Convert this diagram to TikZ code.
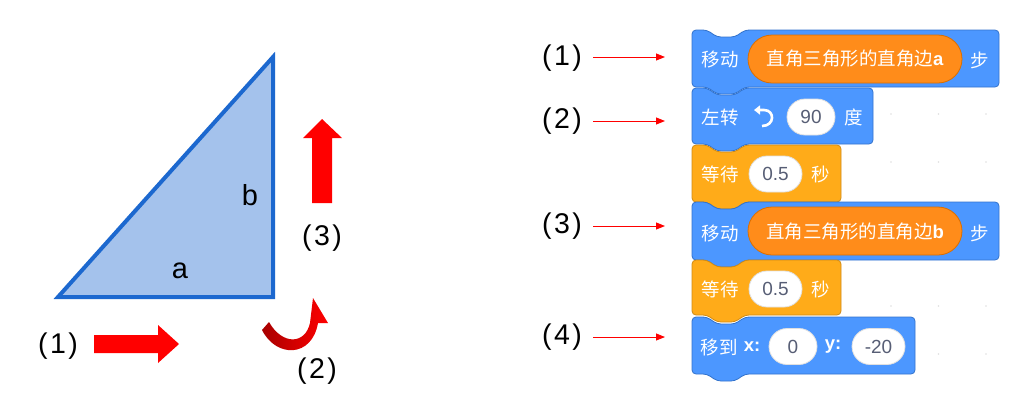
\documentclass[tikz,border=0pt]{standalone}
\usepackage{fontspec}
\setmainfont{Liberation Sans}
\newfontfamily\cjk{Noto Sans CJK SC}
\usetikzlibrary{arrows.meta}
\definecolor{triline}{HTML}{1C68CF}
\definecolor{trifill}{HTML}{A4C2EC}
\definecolor{motion}{HTML}{4C97FF}
\definecolor{motionb}{HTML}{3373CC}
\definecolor{ctrl}{HTML}{FFAB19}
\definecolor{ctrlb}{HTML}{CF8B17}
\definecolor{rep}{HTML}{FF8C1A}
\definecolor{repb}{HTML}{DB6E00}
\definecolor{numtxt}{HTML}{575E75}
\definecolor{bigred}{HTML}{FF0000}
\definecolor{darkred}{HTML}{A80000}
\newcommand\sblock[5]{%
  \draw[#5, rounded corners=4pt] (#1,#2) -- (#1+15,#2) -- (#1+25,#2+7) -- (#1+43,#2+7) -- (#1+53,#2) -- (#3,#2) -- (#3,#4) -- (#1+53,#4) -- (#1+43,#4+7) -- (#1+25,#4+7) -- (#1+15,#4) -- (#1,#4) -- cycle;}
\newcommand\plab[1]{(\kern2.5pt#1\kern2.5pt)}
\tikzset{
  lbl/.style={font=\fontsize{28.5}{30}\selectfont, inner sep=0pt},
  side/.style={font=\fontsize{29}{30}\selectfont, inner sep=0pt},
  bigarrow/.style={fill=bigred, draw=none},
  thinarrow/.style={draw=bigred, line width=1pt, -{Triangle[length=9pt,width=7pt]}},
  mblock/.style={fill=motion, draw=motionb, line width=0.8pt},
  cblock/.style={fill=ctrl, draw=ctrlb, line width=0.8pt},
  btxt/.style={font=\cjk\fontsize{18.5}{20}\selectfont, text=white, inner sep=0pt},
  reporter/.style={fill=rep, draw=repb, line width=0.8pt, rounded corners=24pt, minimum width=214pt, minimum height=48pt, font=\cjk\fontsize{18.5}{20}\selectfont, text=white, inner sep=0pt},
  oval/.style={fill=white, draw=black!12, line width=0.8pt, rounded corners=18pt, minimum height=36pt, font=\fontsize{19}{20}\selectfont, text=numtxt, inner sep=0pt},
}
\begin{document}
\begin{tikzpicture}[x=1pt,y=-1pt]
\useasboundingbox (0,0) rectangle (1024,408);
\fill[white] (0,0) rectangle (1024,408);
% grid dots
\foreach \gx in {891,938.5,986} \foreach \gy in {114,162,210,258,306,354} {\fill[black!12] (\gx,\gy) circle (0.8pt);}
% ---------- left: triangle ----------
\draw[fill=trifill, draw=triline, line width=4pt, line join=miter] (58,297) -- (273,297) -- (273,57) -- cycle;
\node[side] (la) at (180,271) {a};
\node[side] (lb) at (250,195) {b};
% arrow (1)
\fill[bigarrow] (94,335) -- (158,335) -- (158,325) -- (179,344) -- (158,363) -- (158,353) -- (94,353) -- cycle;
\node[lbl] (t1) at (58,346) {\plab{1}};
% arrow (3)
\fill[bigarrow] (312,203) -- (312,138) -- (303,138) -- (322,119) -- (342,138) -- (332,138) -- (332,203) -- cycle;
\node[lbl] (t3) at (322,238) {\plab{3}};
% arrow (2): curved band
\shade[left color=darkred, right color=bigred] (262,330) .. controls (276,358) and (312,358) .. (318,323) -- (328,323) -- (313,298) -- (310,323) .. controls (305,345) and (282,345) .. (269,322) -- cycle;
\node[lbl] (t2) at (317,371) {\plab{2}};
% ---------- right: labels ----------
\node[lbl] (r1) at (562,58) {\plab{1}};
\node[lbl] (r2) at (562,121) {\plab{2}};
\node[lbl] (r3) at (562,226) {\plab{3}};
\node[lbl] (r4) at (562,337.5) {\plab{4}};
\foreach \i/\yy in {1/57,2/121,3/226,4/337} {
  \coordinate (s\i) at (593,\yy);
  \coordinate (e\i) at (665,\yy);
  \draw[thinarrow] (s\i) -- (e\i);
}
% ---------- blocks ----------
\sblock{692}{30}{999}{87}{mblock}
\node[btxt] (b1a) at (720,60) {移动};
\node[reporter] (b1r) at (855,59) {直角三角形的直角边\textbf{\fontspec{Liberation Sans}a}};
\node[btxt] (b1b) at (980,60) {步};
\sblock{692}{88}{873}{144}{mblock}
\node[btxt] (b2a) at (720,117) {左转};
\coordinate (ic) at (763,117);
\draw[white, line width=2.6pt, {Triangle[length=6pt,width=9pt]}-] (754,110) -- (764,110) .. controls (775,110) and (775,126) .. (762,126);
\node[oval, minimum width=48pt] (b2o) at (811,117) {90};
\node[btxt] (b2b) at (854,117) {度};
\sblock{692}{145}{841}{202}{cblock}
\node[btxt] (b3a) at (720,174) {等待};
\node[oval, minimum width=53pt] (b3o) at (775.5,174) {0.5};
\node[btxt] (b3b) at (821,174) {秒};
\sblock{692}{202}{999}{260}{mblock}
\node[btxt] (b4a) at (720,233) {移动};
\node[reporter] (b4r) at (855,231) {直角三角形的直角边\textbf{\fontspec{Liberation Sans}b}};
\node[btxt] (b4b) at (980,233) {步};
\sblock{692}{260}{841}{315}{cblock}
\node[btxt] (b5a) at (720,289) {等待};
\node[oval, minimum width=53pt] (b5o) at (775.5,289) {0.5};
\node[btxt] (b5b) at (821,289) {秒};
\sblock{692}{317}{915}{374}{mblock}
\node[btxt] (b6a) at (719,347) {移到};
\node[btxt, font=\bfseries\fontsize{18.5}{20}\selectfont] (b6x) at (752,347) {x:};
\node[oval, minimum width=48pt] (b6o1) at (793,346.5) {0};
\node[btxt, font=\bfseries\fontsize{18.5}{20}\selectfont] (b6y) at (833,347) {y:};
\node[oval, minimum width=53pt] (b6o2) at (878.5,346.5) {-20};
\end{tikzpicture}
\end{document}
